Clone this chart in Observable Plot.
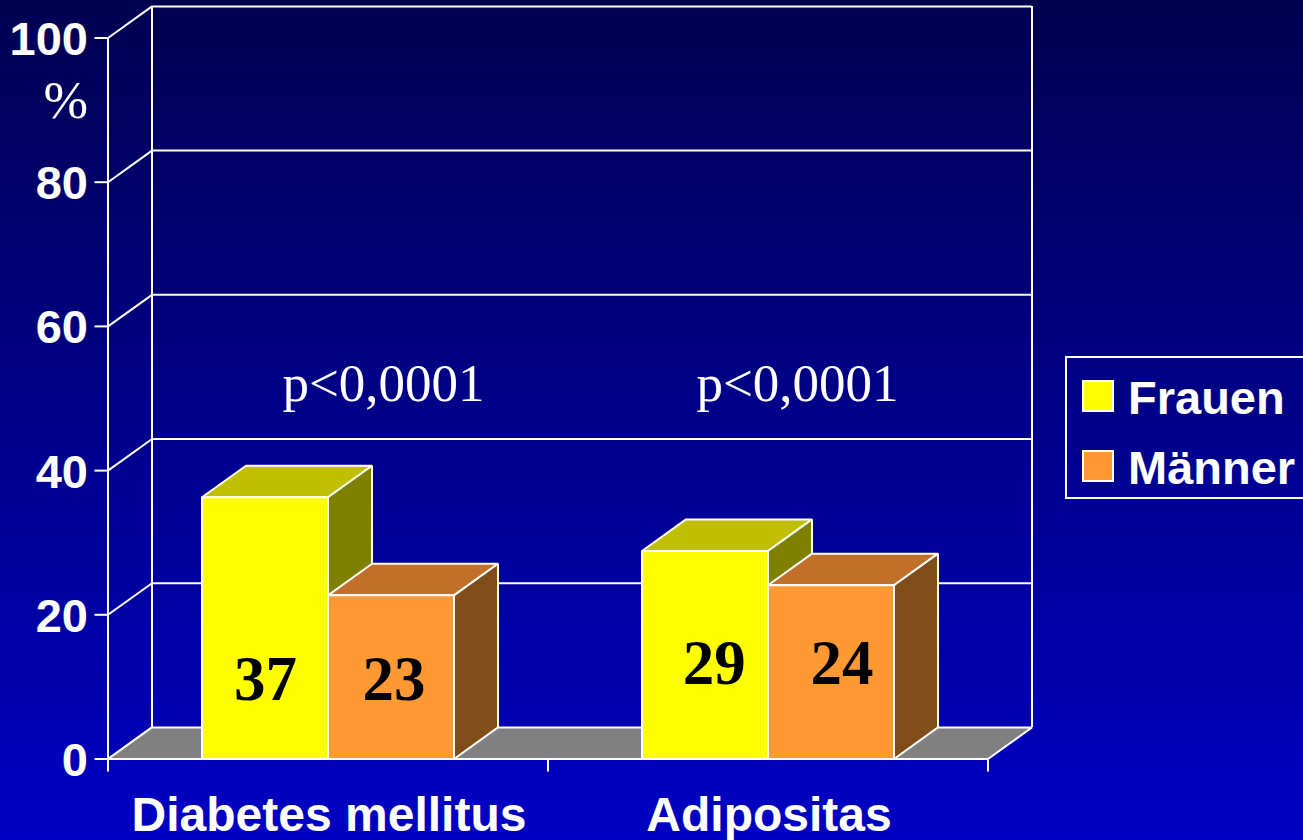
<!DOCTYPE html>
<html lang="de">
<head>
<meta charset="utf-8">
<title>Diabetes mellitus und Adipositas</title>
<script src="https://cdn.jsdelivr.net/npm/d3@7"></script>
<script src="https://cdn.jsdelivr.net/npm/@observablehq/plot@0.6"></script>
<style>
  html, body { margin: 0; padding: 0; }
  body {
    width: 1303px; height: 840px; overflow: hidden; position: relative;
    background: linear-gradient(to bottom, #000050 0%, #0000c4 100%);
  }
  svg { display: block; }
  .legend {
    position: absolute; left: 1065px; top: 356px; width: 260px; height: 139px;
    border: 2px solid #fff; box-sizing: content-box;
    font: bold 47px "Liberation Sans", Arial, sans-serif; color: #fff;
  }
  .legend .row { position: absolute; left: 15px; display: flex; align-items: center; height: 34px; white-space: nowrap; }
  .legend .row i { display: block; width: 28px; height: 28px; border: 2px solid #fff; margin: -2px 14px 0 0; flex: none; }
</style>
</head>
<body>
<div id="chart"></div>
<script>
const categories = ["Diabetes mellitus", "Adipositas"];
const seriesNames = ["Frauen", "Männer"];
const printedValues = [[37, 23], [29, 24]];
const drawnHeights = [[36.3, 22.7], [28.85, 24.1]];
const seriesColors = ["#ffff00", "#ff9933"];
const topColors = ["#c0c000", "#c07028"];
const sideColors = ["#808000", "#804c1a"];
const yTicks = [0, 20, 40, 60, 80, 100];
const pLabels = ["p<0,0001", "p<0,0001"];
const pCenters = [0.626, 1.567];
const valueLabelCenters = [[0.358, 0.65], [1.378, 1.668]];
const valueLabelLevels = [11, 13.2];

const barStart = 0.2136, barWidth = 0.2864, depthX = 0.1, depthY = 4.38, pLevel = 51.95;
const font = "Liberation Sans, Arial, sans-serif";
const serif = "Liberation Serif, Times New Roman, serif";

// Polygons (data space): floor first, then each bar's three faces, back to front.
const faces = [];
const addFace = (id, fill, corners) => corners.forEach(([x, y]) => faces.push({id, fill, x, y}));
addFace("floor", "#808080", [[0, 0], [2, 0], [2 + depthX, depthY], [depthX, depthY]]);
categories.forEach((c, i) => seriesNames.forEach((s, j) => {
  const x0 = i + barStart + j * barWidth, x1 = x0 + barWidth, h = drawnHeights[i][j], id = c + s;
  addFace(id + "top", topColors[j], [[x0, h], [x1, h], [x1 + depthX, h + depthY], [x0 + depthX, h + depthY]]);
  addFace(id + "side", sideColors[j], [[x1, 0], [x1 + depthX, depthY], [x1 + depthX, h + depthY], [x1, h]]);
  addFace(id + "front", seriesColors[j], [[x0, 0], [x1, 0], [x1, h], [x0, h]]);
}));
const valueLabels = categories.flatMap((c, i) => seriesNames.map((s, j) => ({
  x: valueLabelCenters[i][j], y: valueLabelLevels[i], text: String(printedValues[i][j])
})));

const chart = Plot.plot({
  width: 1303, height: 840,
  marginLeft: 107.5, marginRight: 315.5, marginTop: 37.5, marginBottom: 81.5,
  style: {background: "transparent", overflow: "visible"},
  x: {type: "linear", domain: [0, 2]},
  y: {type: "linear", domain: [0, 100]},
  marks: [
    Plot.ruleY(yTicks.filter(d => d > 0), {y: d => d + depthY, x1: depthX, x2: 2 + depthX, stroke: "#fff", strokeWidth: 2}),
    Plot.ruleX([depthX, 2 + depthX], {y1: depthY, y2: 100 + depthY, stroke: "#fff", strokeWidth: 2}),
    Plot.link(yTicks, {x1: 0, y1: d => d, x2: depthX, y2: d => d + depthY, stroke: "#fff", strokeWidth: 2}),
    Plot.ruleX([0], {y1: 0, y2: 100, stroke: "#fff", strokeWidth: 2}),
    Plot.line(faces, {x: "x", y: "y", z: "id", fill: {value: "fill", scale: null}, stroke: "#fff", strokeWidth: 2, curve: "linear-closed", strokeLinejoin: "miter"}),
    Plot.ruleY([0], {x1: 0, x2: 2, stroke: "#fff", strokeWidth: 2}),
    Plot.axisY({ticks: yTicks, tickSize: 13, tickFormat: () => "", stroke: "#fff", strokeWidth: 2, label: null}),
    Plot.axisY({ticks: yTicks, tickSize: 0, tickPadding: 20, dy: 2, fill: "#fff", label: null,
      fontSize: 47, fontWeight: "bold", fontFamily: font}),
    Plot.axisX({ticks: [0, 1, 2], tickSize: 13, tickFormat: () => "", stroke: "#fff", strokeWidth: 2, label: null}),
    Plot.axisX({ticks: [0.5, 1.5], tickSize: 0, tickPadding: 38, dx: 1, tickFormat: d => categories[Math.floor(d)], fill: "#fff", label: null,
      fontSize: 48, fontWeight: "bold", fontFamily: font}),
    Plot.text(["%"], {x: () => 0, y: () => 91.3, text: d => d, textAnchor: "end", dx: -20, fill: "#fff", fontSize: 53.5, fontFamily: serif}),
    Plot.text(pLabels, {x: (d, i) => pCenters[i], y: () => pLevel, text: d => d, fill: "#fff", fontSize: 53, fontFamily: serif}),
    Plot.text(valueLabels, {x: "x", y: "y", text: "text", fill: "#000", fontSize: 63, fontWeight: "bold", fontFamily: serif})
  ]
});
document.getElementById("chart").append(chart);

const legend = document.createElement("div");
legend.className = "legend";
seriesNames.forEach((name, j) => {
  const row = document.createElement("div");
  row.className = "row";
  row.style.top = (22 + j * 70) + "px";
  const swatch = document.createElement("i");
  swatch.style.background = seriesColors[j];
  row.append(swatch, name);
  legend.append(row);
});
document.body.append(legend);
</script>
</body>
</html>
